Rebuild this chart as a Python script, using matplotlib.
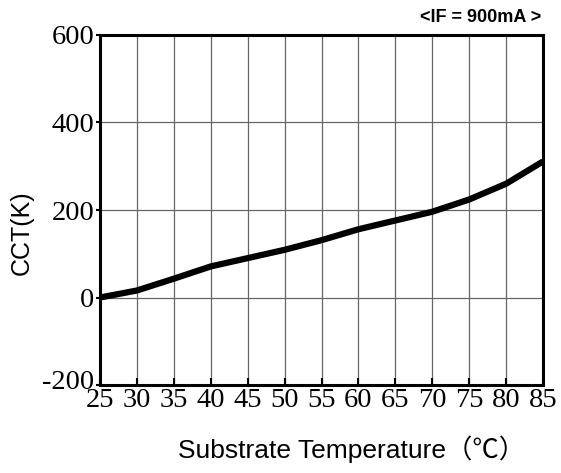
import matplotlib
matplotlib.use("Agg")
import matplotlib.pyplot as plt
import matplotlib.transforms as mtrans

plt.rcParams["axes.unicode_minus"] = False

temps = [25, 30, 35, 40, 45, 50, 55, 60, 65, 70, 75, 80, 85]
cct = [0, 16, 43, 71, 90, 109, 131, 156, 176, 196, 224, 260, 311]
xticks = [25, 30, 35, 40, 45, 50, 55, 60, 65, 70, 75, 80, 85]
yticks = [-200, 0, 200, 400, 600]

fig = plt.figure(figsize=(5.61, 4.73), dpi=100)
ax = fig.add_axes([100/561, 1-385/473, 443/561, 350/473])

ax.plot(temps, cct, color="black", lw=4.5, solid_capstyle="butt", zorder=3)

ax.set_xlim(25, 85)
ax.set_ylim(-200, 600)
ax.set_xticks(xticks)
ax.set_yticks(yticks)
ax.grid(True, color="#666666", lw=0.9)
for s in ax.spines.values():
    s.set_linewidth(2.2)
    s.set_zorder(4)

ax.tick_params(axis="x", direction="in", length=5, width=1.5, pad=2)
ax.tick_params(axis="y", direction="out", length=3, width=1.5, pad=1)
for lab in ax.get_xticklabels() + ax.get_yticklabels():
    lab.set_fontfamily("Liberation Serif")
    lab.set_fontsize(20.5)

# lift the bottom y label slightly, as in the reference
ylabs = ax.get_yticklabels()
ylabs[0].set_transform(ylabs[0].get_transform() +
                       mtrans.ScaledTranslation(0, 6/100, fig.dpi_scale_trans))

fig.text(22/561, 1-233/473, "CCT(K)", rotation=90, ha="center", va="center",
         fontfamily="Liberation Sans", fontsize=18)
fig.text(352/561, 1-449/473, "Substrate Temperature\uff08\u2103\uff09",
         ha="center", va="center",
         fontfamily=["Liberation Sans", "Noto Sans CJK SC"], fontsize=19)

fig.text(541/561, 1-18/473, "<IF = 900mA >", ha="right", va="center",
         fontfamily="Liberation Sans", fontweight="bold", fontsize=13)

fig.savefig("out.png", dpi=100)
